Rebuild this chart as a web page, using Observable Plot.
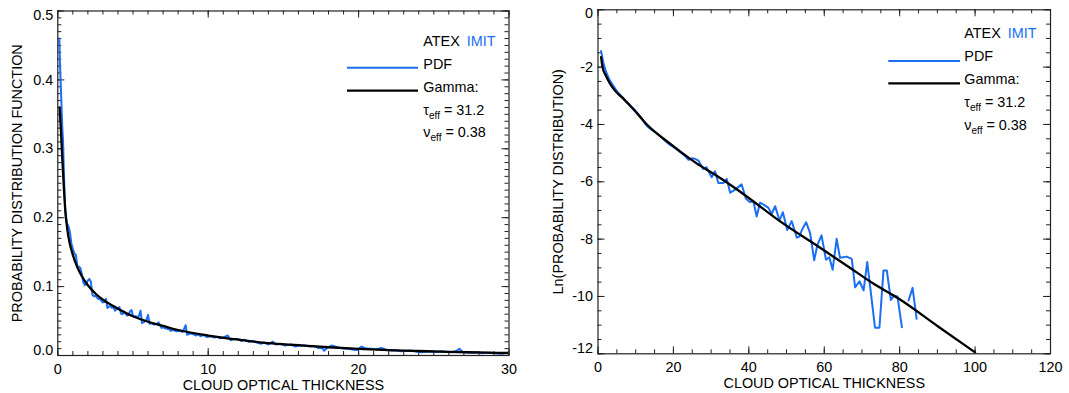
<!DOCTYPE html>
<html><head><meta charset="utf-8">
<script src="https://cdn.jsdelivr.net/npm/d3@7"></script>
<script src="https://cdn.jsdelivr.net/npm/@observablehq/plot@0.6"></script>
<style>
body{margin:0;background:#fff;}
#wrap{display:flex;width:1069px;height:393px;overflow:hidden;}
svg{display:block;}
</style></head><body><div id="wrap"></div>
<script>
// ---------- LEFT PANEL DATA (linear PDF) ----------
const leftTau = [0.1,0.15,0.2,0.25,0.3,0.35,0.4,0.45,0.5,0.6,0.7,0.8,0.9,1.0,1.1,1.2,1.3,1.4,1.5,1.6,1.7,1.8,1.9,2.0,2.1,2.2,2.3,2.4,2.5,2.6,2.7,2.8,2.9,3.0,3.1,3.2,3.3,3.4,3.5,3.6,3.7,3.8,3.9,4.0,4.1,4.2,4.3,4.4,4.5,4.6,4.7,4.8,4.9,5.0,5.1,5.2,5.3,5.4,5.5,5.6,5.7,5.8,5.9,6.0,6.1,6.2,6.4,6.6,6.7,6.9,7.0,7.2,7.4,7.5,7.7,7.9,8.1,8.3,8.5,8.6,8.8,9.0,9.2,9.3,9.5,9.7,9.9,10.2,10.4,10.6,10.8,11.0,11.3,11.5,11.7,12.0,12.2,12.4,12.7,13.0,13.2,13.5,13.7,14.0,14.3,14.5,14.8,15.1,15.5,15.8,16.0,16.4,16.8,17.0,17.3,17.6,17.7,17.9,18.2,18.6,19.0,19.3,19.7,19.9,20.2,20.5,20.8,21.2,21.5,21.9,22.2,22.5,22.8,23.2,23.5,23.9,24.2,24.5,24.8,25.2,25.5,25.9,26.2,26.5,26.7,26.9,27.0,27.5,27.9,28.2,28.5,28.8,29.2,29.5,29.8,30.0];
const leftPdf = [0.46,0.42,0.39,0.36,0.33,0.31,0.27,0.235,0.21,0.192,0.188,0.18,0.163,0.155,0.148,0.146,0.13,0.129,0.127,0.118,0.106,0.102,0.105,0.109,0.111,0.107,0.088,0.086,0.087,0.084,0.082,0.083,0.079,0.077,0.078,0.082,0.069,0.071,0.072,0.069,0.071,0.065,0.067,0.069,0.070,0.061,0.060,0.064,0.061,0.058,0.059,0.064,0.066,0.057,0.056,0.057,0.055,0.058,0.065,0.047,0.048,0.050,0.052,0.059,0.046,0.047,0.045,0.046,0.048,0.040,0.041,0.039,0.038,0.036,0.037,0.035,0.036,0.034,0.044,0.030,0.032,0.031,0.029,0.031,0.028,0.030,0.027,0.028,0.026,0.027,0.025,0.026,0.029,0.022,0.024,0.024,0.021,0.023,0.020,0.021,0.019,0.017,0.019,0.016,0.020,0.016,0.017,0.0145,0.016,0.013,0.014,0.0145,0.013,0.014,0.011,0.0105,0.007,0.011,0.0145,0.012,0.010,0.0097,0.0085,0.008,0.013,0.010,0.0097,0.009,0.011,0.008,0.0073,0.0075,0.0063,0.0068,0.0073,0.0055,0.0048,0.0055,0.0058,0.0050,0.0063,0.0050,0.0048,0.0065,0.0097,0.0055,0.0048,0.0039,0.0045,0.0034,0.0040,0.0039,0.0030,0.0024,0.0035,0.0039];
const leftGammaTau = [0.12,0.2,0.3,0.4,0.5,0.62,0.8,1.0,1.3,1.6,2.0,2.5,3.0,4.0,5.0,6,7,8,10,12,14,16,18,20,22,24,26,28,30];
const leftGamma = [0.36,0.33,0.285,0.245,0.21,0.185,0.162,0.146,0.128,0.115,0.102,0.09,0.081,0.068,0.057,0.049,0.043,0.037,0.029,0.023,0.018,0.015,0.012,0.0097,0.0079,0.0065,0.0053,0.0044,0.0036];

// ---------- RIGHT PANEL DATA (ln PDF) ----------
const rightTau = [0.83,1.41,2.1,3.08,4.54,5.52,6.5,7.47,8.45,9.43,10.41,11.39,12.36,13.34,14.32,15.3,16.27,17.25,18.23,19.2,20.18,21.16,22.14,23.12,23.99,25.07,25.75,26.63,27.9,28.78,30.15,31.03,31.91,33.28,34.16,35.04,36.31,38.07,39.24,40.32,41.2,42.08,42.96,44.33,45.21,46.09,46.97,48.14,49.02,50.19,51.36,52.73,53.42,54.0,55.18,56.25,57.33,58.21,59.28,60.46,61.34,62.22,63.29,64.17,65.93,67.3,68.18,69.35,70.43,71.4,73.46,74.63,75.71,76.59,77.66,78.54,79.42,80.59,81.47,82.35,83.43,84.5];
const rightLnPdf = [-1.44,-1.85,-2.15,-2.45,-2.75,-2.92,-3.05,-3.2,-3.33,-3.45,-3.6,-3.75,-3.95,-4.1,-4.2,-4.28,-4.38,-4.5,-4.62,-4.72,-4.8,-4.9,-5.0,-5.1,-5.23,-5.18,-5.2,-5.26,-5.55,-5.49,-5.84,-5.63,-6.04,-6.04,-5.9,-6.38,-6.28,-6.09,-6.59,-6.71,-6.68,-7.21,-6.73,-6.83,-6.91,-7.12,-6.85,-7.35,-7.06,-7.68,-7.37,-7.95,-7.91,-7.70,-7.41,-7.79,-8.74,-8.19,-7.87,-8.72,-8.63,-9.07,-7.99,-8.65,-8.61,-8.69,-9.68,-9.47,-9.79,-8.8,-11.09,-11.09,-9.09,-9.09,-10.12,-9.97,-10.0,-11.07,null,-10.14,-9.7,-10.78];
const rightGammaTau = [0.83,1.2,2.1,3.2,4.5,6.7,9.4,12.95,19.2,26.05,32.4,38.8,48.5,58.9,66.8,73,80,90,100];
const rightLnGamma = [-1.65,-2.0,-2.3,-2.58,-2.82,-3.1,-3.47,-4.0,-4.68,-5.35,-5.87,-6.45,-7.4,-8.3,-9.0,-9.55,-10.1,-11.03,-11.95];

// ---------- AXES / TEXT ----------
const leftXTicks = [0,10,20,30];
const leftYTicks = [0,0.1,0.2,0.3,0.4,0.5];
const rightXTicks = [0,20,40,60,80,100,120];
const rightYTicks = [0,-2,-4,-6,-8,-10,-12];
const xTitle = "CLOUD OPTICAL THICKNESS";
const leftYTitle = "PROBABILITY DISTRIBUTION FUNCTION";
const rightYTitle = "Ln(PROBABILITY DISTRIBUTION)";
const legendHead = ["ATEX", "IMIT"];
const legendItems = ["PDF", "Gamma:"];
const tauEff = "31.2";
const nuEff = "0.38";

const FONT = "'Liberation Sans', Arial, Helvetica, sans-serif";
const FS = 14.4;
const BLUE = "#1a6ff2";
const AX = "#222";

const rng = (a, b, s) => { const n = Math.round((b - a) / s); return Array.from({length: n + 1}, (_, i) => +(a + i * s).toFixed(6)); };

function panel(o) {
  const ph = o.height - o.mt - o.mb, pw = o.width - o.ml - o.mr;
  const ticks = (xs, ys, len) => [
    Plot.tickX(xs, {x: d => d, insetTop: ph - len, stroke: AX}),
    Plot.tickX(xs, {x: d => d, insetBottom: ph - len, stroke: AX}),
    Plot.tickY(ys, {y: d => d, insetRight: pw - len, stroke: AX}),
    Plot.tickY(ys, {y: d => d, insetLeft: pw - len, stroke: AX})
  ];
  const yt = o.yTicks;
  const ax = {tickSize: 0, fontSize: FS, label: null};
  const pdf = o.tau.map((t, i) => ({x: t, y: o.pdf[i]}));
  const gam = o.gTau.map((t, i) => ({x: t, y: o.gam[i]}));
  return Plot.plot({
    width: o.width, height: o.height,
    marginTop: o.mt, marginBottom: o.mb, marginLeft: o.ml, marginRight: o.mr,
    x: {domain: o.xDomain}, y: {domain: o.yDomain},
    style: {fontFamily: FONT, fontSize: FS + "px", background: "white", color: "#000"},
    marks: [
      ...ticks(o.xMinor, o.yMinor, 4),
      ...ticks(o.xTicks, yt, 7),
      Plot.line(pdf, {x: "x", y: "y", stroke: BLUE, strokeWidth: 2, clip: true}),
      Plot.line(gam, {x: "x", y: "y", stroke: "#000", strokeWidth: 2.3, curve: "monotone-x", clip: true}),
      Plot.frame({stroke: AX, strokeWidth: 1.2}),
      Plot.axisX(o.xTicks, {...ax, tickPadding: 8, tickFormat: d => String(d)}),
      Plot.axisY(yt.slice(1, -1), {...ax, tickPadding: o.ypad, tickFormat: o.yfmt}),
      Plot.axisY([yt[0]], {...ax, tickPadding: o.ypad, tickFormat: o.yfmt, dy: o.dyFirst}),
      Plot.axisY([yt[yt.length - 1]], {...ax, tickPadding: o.ypad, tickFormat: o.yfmt, dy: o.dyLast}),
      Plot.text([xTitle], {text: d => d, frameAnchor: "bottom", dy: 30, fontSize: FS, lineAnchor: "middle", textAnchor: "middle"}),
      Plot.text([o.yTitle], {text: d => d, frameAnchor: "left", rotate: -90, dx: o.ytdx, fontSize: FS, lineAnchor: "middle", textAnchor: "middle"})
    ]
  });
}

function legend(svg, L) {
  const g = d3.select(svg).append("g").attr("font-family", FONT).attr("font-size", FS).attr("fill", "#000").attr("text-anchor", "start");
  const h = g.append("text").attr("x", L.tx).attr("y", L.b[0]);
  h.append("tspan").text(legendHead[0]);
  h.append("tspan").attr("dx", 7).attr("fill", BLUE).text(legendHead[1]);
  g.append("line").attr("x1", L.lx1).attr("x2", L.lx2).attr("y1", L.ly[0]).attr("y2", L.ly[0]).attr("stroke", BLUE).attr("stroke-width", 2);
  g.append("text").attr("x", L.tx).attr("y", L.b[1]).text(legendItems[0]);
  g.append("line").attr("x1", L.lx1).attr("x2", L.lx2).attr("y1", L.ly[1]).attr("y2", L.ly[1]).attr("stroke", "#000").attr("stroke-width", 2.3);
  g.append("text").attr("x", L.tx).attr("y", L.b[2]).text(legendItems[1]);
  const sym = [["τ", tauEff], ["ν", nuEff]];
  sym.forEach(([s, v], i) => {
    const t = g.append("text").attr("x", L.tx).attr("y", L.b[3 + i]);
    t.append("tspan").text(s);
    t.append("tspan").attr("dy", 4).attr("font-size", 10).text("eff");
    t.append("tspan").attr("dy", -4).attr("dx", 4).text("= " + v);
  });
}

const wrap = document.getElementById("wrap");

const left = panel({
  width: 530, height: 393, mt: 10.5, mb: 38, ml: 57.3, mr: 21.5,
  xDomain: [0, 30], yDomain: [0, 0.5],
  xTicks: leftXTicks, yTicks: leftYTicks,
  xMinor: rng(0, 30, 1), yMinor: rng(0, 0.5, 0.01),
  tau: leftTau, pdf: leftPdf, gTau: leftGammaTau, gam: leftGamma,
  yfmt: d => d.toFixed(1), ypad: 4.5, dyFirst: -5, dyLast: 4.5,
  yTitle: leftYTitle, ytdx: -40
});
legend(left, {tx: 423.3, b: [46, 69, 92, 114.5, 137], lx1: 347, lx2: 418, ly: [67.7, 90.7]});
wrap.appendChild(left);

const right = panel({
  width: 539, height: 393, mt: 9.3, mb: 39.7, ml: 67.5, mr: 19,
  xDomain: [0, 120], yDomain: [-12, 0],
  xTicks: rightXTicks, yTicks: rightYTicks,
  xMinor: rng(0, 120, 5), yMinor: rng(-12, 0, 0.5),
  tau: rightTau, pdf: rightLnPdf, gTau: rightGammaTau, gam: rightLnGamma,
  yfmt: d => String(d), ypad: 5, dyFirst: 4, dyLast: -5,
  yTitle: rightYTitle, ytdx: -39.5
});
legend(right, {tx: 434.3, b: [38.3, 60.7, 84, 107, 130], lx1: 358.3, lx2: 430, ly: [61, 83.3]});
wrap.appendChild(right);
</script>
</body></html>
